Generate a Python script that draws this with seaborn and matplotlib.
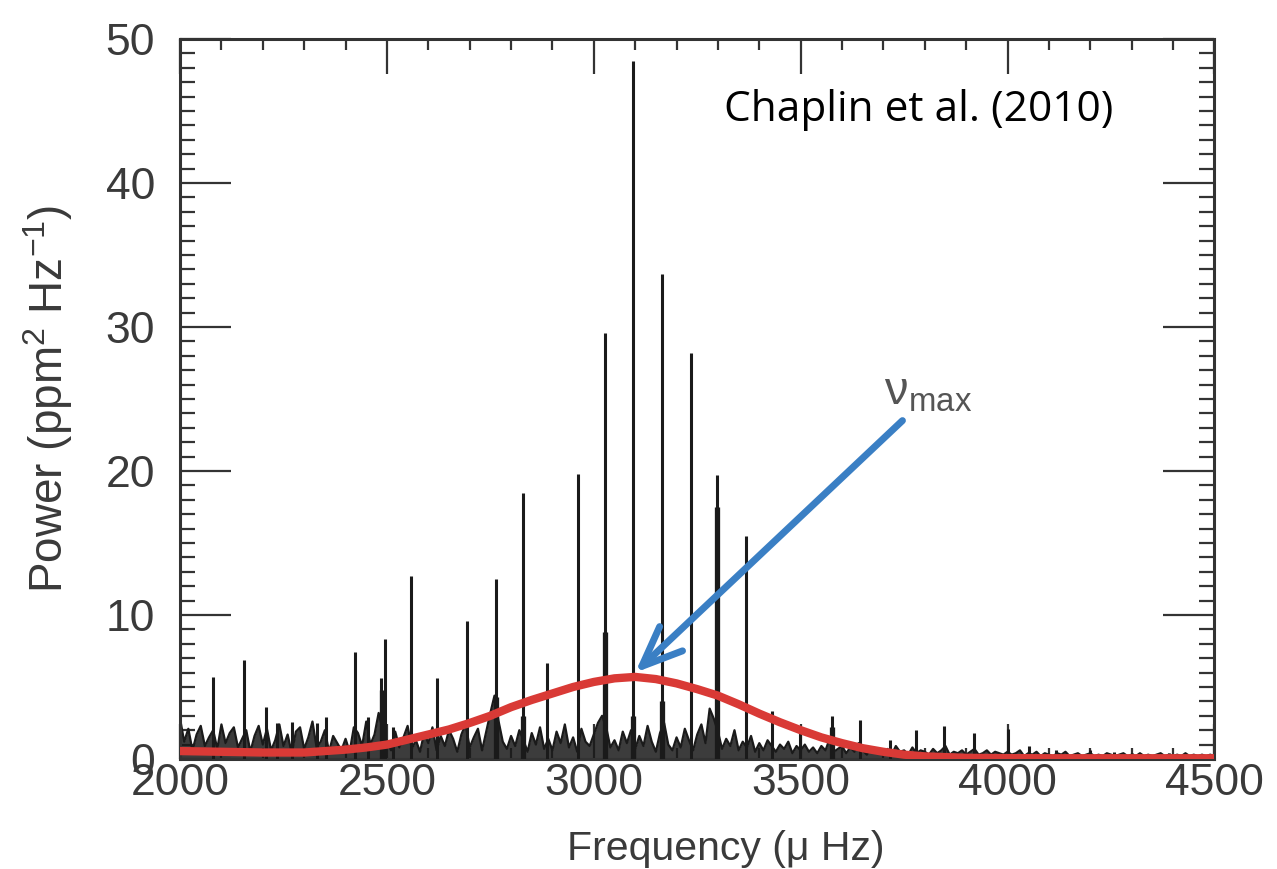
import numpy as np
import pandas as pd
import matplotlib
matplotlib.use("Agg")
import matplotlib.pyplot as plt
from matplotlib.ticker import MultipleLocator
import seaborn as sns

# ---- data ----
# background noise of the power spectrum, one value every 10 uHz (2000..4500)
noise_start = 2000
noise_step = 10
noise_power = [
    2.8, 1.2, 2.1, 0.6, 1.7, 2.3, 0.9, 1.5, 2.0, 0.7,
    2.4, 1.1, 1.8, 2.2, 0.8, 1.4, 2.0, 0.5, 1.6, 2.3,
    1.0, 2.1, 0.6, 1.3, 2.4, 0.9, 1.7, 0.4, 1.9, 2.2,
    0.7, 1.5, 2.6, 0.8, 1.2, 2.0, 0.5, 1.6, 1.1, 0.6,
    1.4, 0.5, 2.2, 1.8, 0.9, 2.6, 1.0, 1.7, 3.2, 2.0,
    1.2, 0.6, 1.9, 0.8, 1.5, 2.3, 0.7, 1.3, 0.5, 1.8,
    1.1, 2.2, 0.6, 1.6, 0.9, 2.0, 1.4, 0.5, 1.7, 2.4,
    0.8, 1.5, 2.1, 0.6, 1.9, 3.2, 4.4, 2.6, 1.2, 0.7,
    1.6, 0.9, 2.0, 1.3, 0.5, 1.8, 1.0, 2.2, 0.7, 1.4,
    0.6, 1.9, 1.1, 2.4, 0.8, 1.5, 0.5, 2.1, 1.2, 0.9,
    1.7, 2.5, 3.0, 2.2, 0.8, 1.3, 0.6, 1.9, 1.1, 2.0,
    0.7, 1.6, 0.9, 2.3, 1.2, 0.5, 1.8, 2.5, 1.0, 0.6,
    1.5, 0.8, 2.1, 1.3, 0.6, 1.7, 2.4, 1.1, 3.5, 2.8,
    1.9, 0.7, 1.4, 0.9, 2.0, 0.6, 1.2, 0.8, 1.6, 0.5,
    1.1, 0.6, 1.3, 0.9, 0.5, 1.0, 0.7, 1.2, 0.4, 0.9,
    0.6, 1.0, 0.5, 0.8, 0.4, 0.9, 0.6, 1.4, 0.5, 0.7,
    0.9, 0.4, 0.8, 0.5, 1.1, 0.6, 0.3, 0.8, 0.5, 0.7,
    0.4, 0.7, 0.3, 0.9, 0.5, 0.6, 0.3, 0.8, 0.4, 0.6,
    0.5, 0.3, 0.7, 0.4, 0.6, 0.9, 0.3, 0.5, 0.4, 0.6,
    0.3, 0.5, 0.7, 0.3, 0.4, 0.6, 0.3, 0.5, 0.4, 0.3,
    0.5, 0.3, 0.4, 0.6, 0.2, 0.4, 0.3, 0.5, 0.2, 0.4,
    0.3, 0.2, 0.4, 0.3, 0.5, 0.2, 0.3, 0.4, 0.2, 0.3,
    0.4, 0.2, 0.3, 0.2, 0.4, 0.3, 0.2, 0.3, 0.4, 0.2,
    0.3, 0.2, 0.4, 0.2, 0.3, 0.2, 0.3, 0.4, 0.2, 0.3,
    0.2, 0.3, 0.2, 0.4, 0.2, 0.3, 0.2, 0.3, 0.2, 0.3,
    0.2,
]

# oscillation modes (narrow spikes)
peak_freq = [2079, 2155, 2208, 2234, 2270, 2330, 2352, 2423, 2454, 2486,
             2495, 2515, 2558, 2620, 2693, 2763, 2828, 2886, 2961, 3026,
             3094, 3166, 3234, 3297, 3367, 3431, 3498, 3575, 3643, 3715,
             3778, 3846, 3918, 4000, 4051, 4118, 4200, 4258, 4300, 4390, 4470]
peak_power = [5.7, 6.9, 3.6, 2.5, 2.6, 2.5, 2.9, 7.4, 2.9, 5.6,
              8.3, 2.2, 12.7, 5.6, 9.6, 12.5, 18.5, 6.7, 19.8, 29.6,
              48.5, 33.7, 28.2, 19.7, 15.5, 3.3, 1.8, 3.0, 2.7, 1.3,
              2.0, 2.3, 1.8, 2.1, 0.9, 0.6, 0.6, 0.5, 0.4, 0.4, 0.3]

# broader lower parts of some modes
base_freq = [2488, 2763, 2828, 3026, 3094, 3166, 3297, 3575]
base_power = [4.8, 4.3, 3.0, 8.8, 3.0, 4.0, 17.5, 2.2]

# smooth fit of the envelope (red)
fit_freq = [2000, 2100, 2200, 2300, 2400, 2450, 2500, 2550, 2600, 2650,
            2700, 2750, 2800, 2850, 2900, 2950, 3000, 3050, 3100, 3150,
            3200, 3250, 3300, 3350, 3400, 3450, 3500, 3550, 3600, 3650,
            3700, 3750, 3800, 3900, 4000, 4100, 4200, 4300, 4400, 4500]
fit_power = [0.55, 0.5, 0.45, 0.45, 0.65, 0.8, 1.0, 1.35, 1.7, 2.05,
             2.5, 3.0, 3.6, 4.1, 4.55, 5.0, 5.35, 5.6, 5.7, 5.55,
             5.25, 4.85, 4.4, 3.8, 3.15, 2.55, 2.0, 1.5, 1.1, 0.75,
             0.5, 0.3, 0.18, 0.08, 0.06, 0.05, 0.05, 0.05, 0.05, 0.05]

noise_freq = noise_start + noise_step * np.arange(len(noise_power))
noise_df = pd.DataFrame({"freq": noise_freq, "power": noise_power})
fit_df = pd.DataFrame({"freq": fit_freq, "power": fit_power})

# ---- style ----
sns.set_style("ticks")
plt.rcParams["font.family"] = ["Liberation Sans", "DejaVu Sans"]
plt.rcParams["mathtext.fontset"] = "custom"
plt.rcParams["mathtext.rm"] = "Liberation Sans"
plt.rcParams["mathtext.it"] = "Liberation Sans:italic"

frame = "#333333"
txt = "#3a3a3a"
spec_col = "#1a1a1a"
red = "#d93a36"
blue = "#3a7fc4"

fig = plt.figure(figsize=(12.77, 8.69), dpi=100)
ax = fig.add_axes([0.141, 0.1266, 0.81, 0.8285])

# spectrum: dense noise floor plus mode spikes
ax.fill_between(noise_df["freq"], 0, noise_df["power"], color=spec_col,
                lw=0, alpha=0.85, zorder=2)
sns.lineplot(data=noise_df, x="freq", y="power", ax=ax, color=spec_col,
             lw=1.6, zorder=2)
ax.vlines(peak_freq, 0, peak_power, color=spec_col, lw=2.2, zorder=3)
ax.vlines(base_freq, 0, base_power, color=spec_col, lw=3.8, zorder=3)

# envelope fit
sns.lineplot(data=fit_df, x="freq", y="power", ax=ax, color=red, lw=6,
             zorder=4)

ax.set_xlim(2000, 4500)
ax.set_ylim(0, 50)

# axes frame and ticks, inward on all sides
for s in ax.spines.values():
    s.set_color(frame)
    s.set_linewidth(2.2)
ax.xaxis.set_major_locator(MultipleLocator(500))
ax.xaxis.set_minor_locator(MultipleLocator(100))
ax.yaxis.set_major_locator(MultipleLocator(10))
ax.yaxis.set_minor_locator(MultipleLocator(1))
ax.tick_params(axis="both", which="both", direction="in", top=True,
               right=True, color=frame, width=1.6, labelcolor=txt,
               labelsize=32)
ax.tick_params(axis="x", which="major", length=25, pad=3)
ax.tick_params(axis="x", which="minor", length=8)
ax.tick_params(axis="y", which="major", length=37, pad=18)
ax.tick_params(axis="y", which="minor", length=11)

ax.set_xlabel("Frequency (μ Hz)", fontsize=29.5, color=txt)
ax.xaxis.set_label_coords(0.528, -0.098)
ax.set_ylabel(r"Power (ppm$^{\mathrm{2}}$ Hz$^{\mathrm{-1}}$)", fontsize=33,
              color=txt, labelpad=22)

# annotations
ax.text(0.714, 0.902, "Chaplin et al. (2010)", transform=ax.transAxes,
        ha="center", va="center", fontsize=30.5, color="black",
        family=["Open Sans", "DejaVu Sans"])

imax = int(np.argmax(fit_power))
ax.annotate("", xy=(fit_freq[imax], fit_power[imax] + 0.3),
            xytext=(3746, 23.5),
            arrowprops=dict(arrowstyle="->,head_length=1.45,head_width=0.6",
                            color=blue, lw=5, mutation_scale=20,
                            shrinkA=0, shrinkB=0),
            zorder=6)
ax.text(3808, 24.6, r"$\mathrm{\nu}_{\mathrm{max}}$", fontsize=34,
        color="#555555", ha="center", va="baseline")

fig.savefig("out.png", dpi=100)
